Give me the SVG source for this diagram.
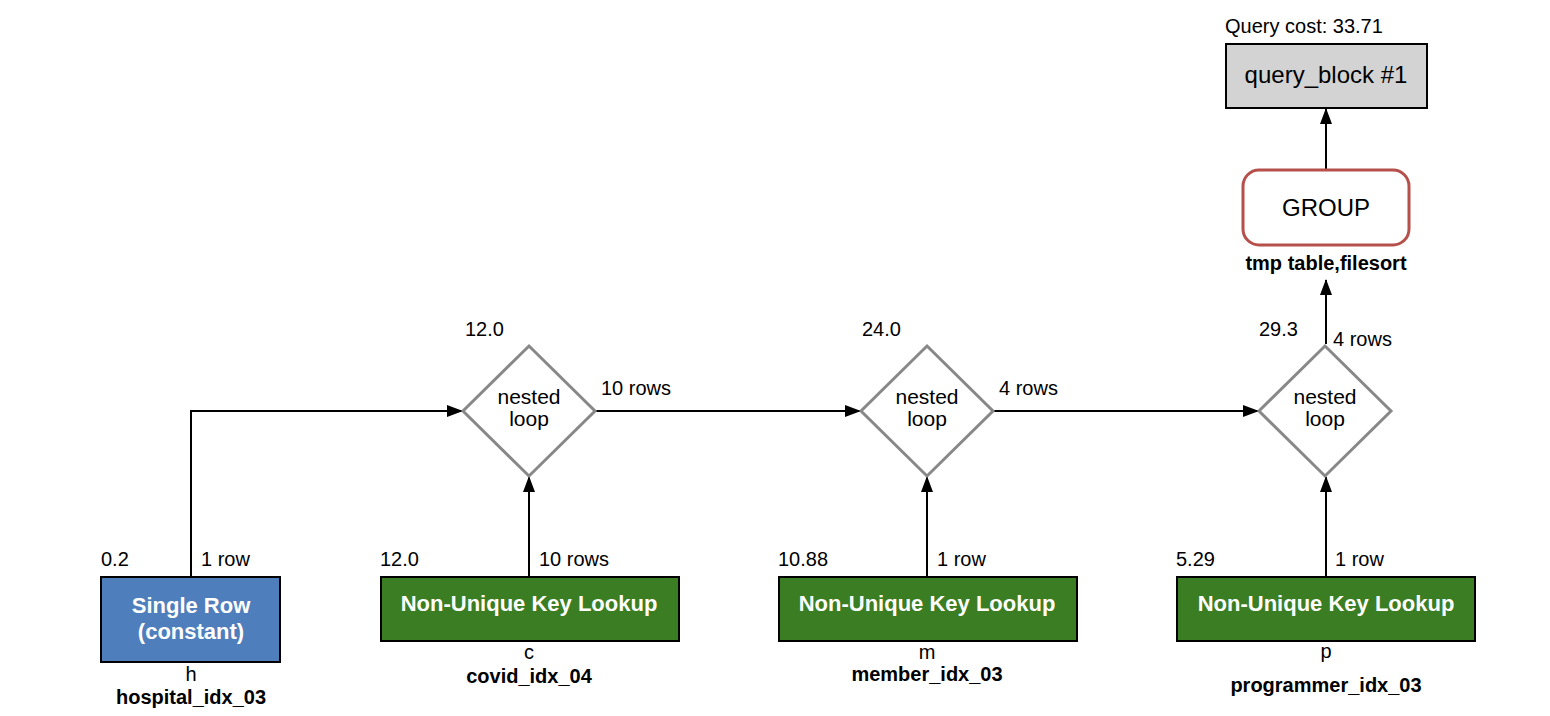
<svg xmlns="http://www.w3.org/2000/svg" width="1550" height="716" viewBox="0 0 1550 716">
<style>
text{font-family:"Liberation Sans",Arial,sans-serif;fill:#000}
.s16{font-size:20px}
.b16{font-size:20px;font-weight:bold}
.lbl{font-size:21px}
.big{font-size:24px}
.wt{font-size:22px;font-weight:bold;fill:#fff}
.mid{text-anchor:middle}
.dia{fill:#fff;stroke:#888;stroke-width:3}
.tbl{stroke:#000;stroke-width:2}
.edge{fill:none;stroke:#000;stroke-width:2}
</style>
<defs>
<marker id="ah" markerWidth="16" markerHeight="12" refX="15" refY="6" orient="auto" markerUnits="userSpaceOnUse">
<path d="M0,0 L16,6 L0,12 Z" fill="#000"/>
</marker>
</defs>
<rect width="1550" height="716" fill="#fff"/>
<g id="connectors">
<path class="edge" d="M191,576 V411 H462" marker-end="url(#ah)"/>
<path class="edge" d="M529,576 V477" marker-end="url(#ah)"/>
<path class="edge" d="M596,411 H860" marker-end="url(#ah)"/>
<path class="edge" d="M927,576 V477" marker-end="url(#ah)"/>
<path class="edge" d="M994,411 H1258" marker-end="url(#ah)"/>
<path class="edge" d="M1326,576 V477" marker-end="url(#ah)"/>
<path class="edge" d="M1326,344 V280" marker-end="url(#ah)"/>
<path class="edge" d="M1326,169 V109" marker-end="url(#ah)"/>
<text class="s16" x="201" y="566">1 row</text>
<text class="s16" x="539" y="566">10 rows</text>
<text class="s16" x="937" y="566">1 row</text>
<text class="s16" x="1335" y="566">1 row</text>
<text class="s16" x="601" y="395">10 rows</text>
<text class="s16" x="999" y="395">4 rows</text>
<text class="s16" x="1333" y="346">4 rows</text>
</g>
<g id="query_block">
<text class="s16" x="1225" y="33">Query cost: 33.71</text>
<rect x="1226" y="44" width="201" height="64" fill="#d3d3d3" class="tbl"/>
<text class="big mid" x="1326" y="83">query_block #1</text>
</g>
<g id="group">
<rect x="1243" y="170" width="166" height="75" rx="16" ry="16" fill="#fff" stroke="#b5504b" stroke-width="3"/>
<text class="big mid" x="1326" y="216">GROUP</text>
<text class="b16 mid" x="1326" y="270">tmp table,filesort</text>
</g>
<g id="nl1">
<text class="s16" x="465" y="336">12.0</text>
<polygon class="dia" points="529,346 595,411 529,476 463,411"/>
<text class="lbl mid" x="529" y="404">nested</text>
<text class="lbl mid" x="529" y="426">loop</text>
</g>
<g id="nl2">
<text class="s16" x="862" y="336">24.0</text>
<polygon class="dia" points="927,346 993,411 927,476 861,411"/>
<text class="lbl mid" x="927" y="404">nested</text>
<text class="lbl mid" x="927" y="426">loop</text>
</g>
<g id="nl3">
<text class="s16" x="1259" y="336">29.3</text>
<polygon class="dia" points="1325,346 1391,411 1325,476 1259,411"/>
<text class="lbl mid" x="1325" y="404">nested</text>
<text class="lbl mid" x="1325" y="426">loop</text>
</g>
<g id="table_h">
<text class="s16" x="101" y="566">0.2</text>
<rect x="101" y="577" width="179" height="85" fill="#4f7ebd" class="tbl"/>
<text class="wt mid" x="191" y="613">Single Row</text>
<text class="wt mid" x="191" y="639">(constant)</text>
<text class="s16 mid" x="191" y="681">h</text>
<text class="b16 mid" x="191" y="704">hospital_idx_03</text>
</g>
<g id="table_c">
<text class="s16" x="380" y="566">12.0</text>
<rect x="381" y="577" width="298" height="64" fill="#3a7d23" class="tbl"/>
<text class="wt mid" x="529" y="611">Non-Unique Key Lookup</text>
<text class="s16 mid" x="529" y="659">c</text>
<text class="b16 mid" x="529" y="683">covid_idx_04</text>
</g>
<g id="table_m">
<text class="s16" x="778" y="566">10.88</text>
<rect x="779" y="577" width="298" height="64" fill="#3a7d23" class="tbl"/>
<text class="wt mid" x="927" y="611">Non-Unique Key Lookup</text>
<text class="s16 mid" x="927" y="659">m</text>
<text class="b16 mid" x="927" y="681">member_idx_03</text>
</g>
<g id="table_p">
<text class="s16" x="1176" y="566">5.29</text>
<rect x="1177" y="577" width="298" height="64" fill="#3a7d23" class="tbl"/>
<text class="wt mid" x="1326" y="611">Non-Unique Key Lookup</text>
<text class="s16 mid" x="1326" y="658">p</text>
<text class="b16 mid" x="1326" y="692">programmer_idx_03</text>
</g>
</svg>
